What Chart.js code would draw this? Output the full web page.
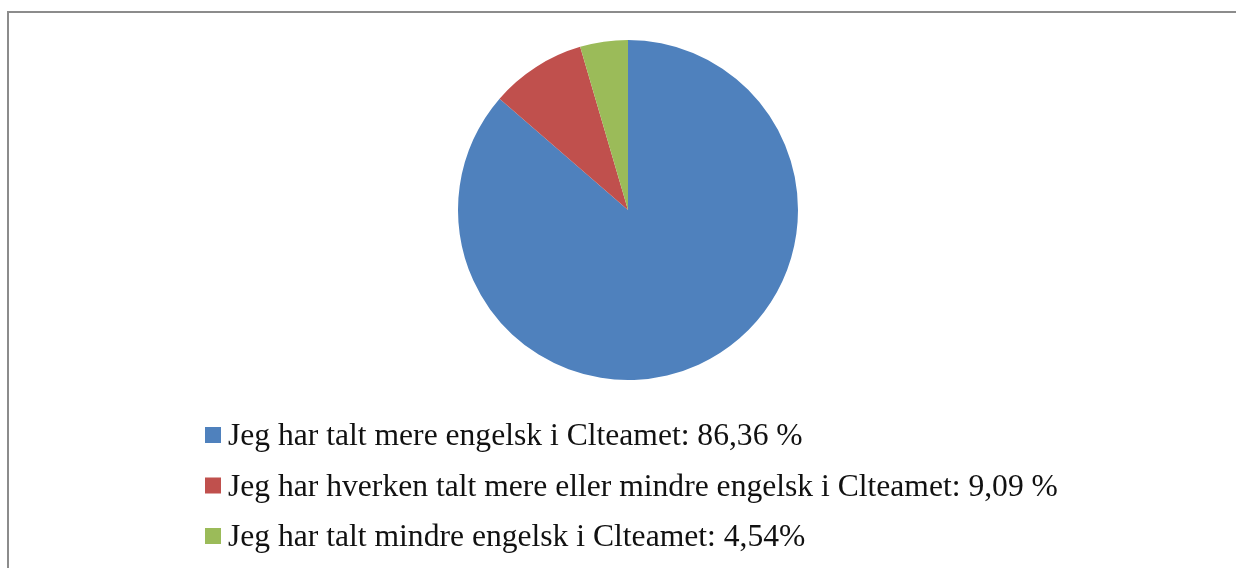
<!DOCTYPE html>
<html>
<head>
<meta charset="utf-8">
<script src="https://cdn.jsdelivr.net/npm/chart.js@4/dist/chart.umd.min.js"></script>
<style>
    html, body { margin: 0; padding: 0; background: #fff; }
    #wrap { position: relative; width: 1236px; height: 568px; overflow: hidden; }
    #frame {
        position: absolute; left: 7px; top: 11px; width: 1400px; height: 700px;
        border-left: 2px solid #8c8c8c; border-top: 2px solid #8c8c8c;
    }
    canvas { position: absolute; left: 0; top: 0; }
</style>
</head>
<body>
<div id="wrap">
    <div id="frame"></div>
    <canvas id="pie" width="1236" height="568"></canvas>
</div>
<script>
// answers from the survey, in drawing order (clockwise from the top)
const labels = [
    'Jeg har talt mere engelsk i Clteamet: 86,36 %',
    'Jeg har hverken talt mere eller mindre engelsk i Clteamet: 9,09 %',
    'Jeg har talt mindre engelsk i Clteamet: 4,54%'
];
const shares = [86.36, 9.09, 4.54];
const colors = ['#4f81bd', '#c0504d', '#9bbb59'];

// legend drawn by hand so the box/text spacing matches the office-style legend
const legendPlugin = {
    id: 'leftLegend',
    afterDraw(chart) {
        const ctx = chart.ctx;
        const items = chart.data.labels;
        const bg = chart.data.datasets[0].backgroundColor;
        ctx.save();
        ctx.font = '31.6px "Liberation Serif", "Times New Roman", serif';
        ctx.textBaseline = 'alphabetic';
        for (let i = 0; i < items.length; i++) {
            //baseline of each row, rows are about 50px apart
            const base = 445 + i * 50.5;
            ctx.fillStyle = bg[i];
            ctx.fillRect(205, base - 18, 16, 16);
            ctx.fillStyle = '#111';
            ctx.fillText(items[i], 228, base);
        }
        ctx.restore();
    }
};

new Chart(document.getElementById('pie'), {
    type: 'pie',
    data: {
        labels: labels,
        datasets: [{
            data: shares,
            backgroundColor: colors,
            borderWidth: 0
        }]
    },
    options: {
        responsive: false,
        animation: false,
        layout: {
            padding: { left: 20, right: 0, top: 40, bottom: 188 }
        },
        plugins: {
            legend: { display: false },
            tooltip: { enabled: false }
        }
    },
    plugins: [legendPlugin]
});
</script>
</body>
</html>
